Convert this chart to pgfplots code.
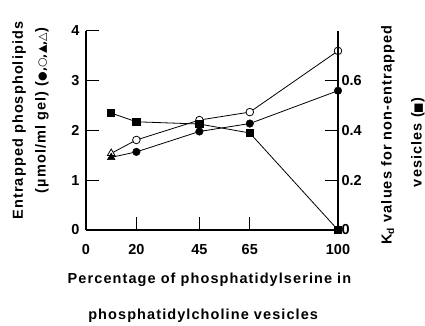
\documentclass[border=0pt]{standalone}
\usepackage{fontspec}
\setmainfont{Liberation Sans}
\newfontfamily\lblfont[LetterSpace=7.5]{Liberation Sans}
\newfontfamily\symfont{DejaVu Sans}
\usepackage{pgfplots}
\pgfplotsset{compat=1.18}
\begin{document}
\begin{tikzpicture}[x=1pt,y=1pt]
\path[use as bounding box] (-86,-96) rectangle (339,230);
\begin{axis}[
  at={(0,0)}, anchor=south west,
  scale only axis, width=252pt, height=199pt,
  xmin=0, xmax=100, ymin=0, ymax=4,
  axis y line*=left, axis x line*=bottom,
  axis line style={line width=1.1pt},
  xtick={0,20,45,65,100}, ytick={0,1,2,3,4},
  tick style={line width=1pt, black},
  major tick length=13pt,
  tick align=inside,
  /pgf/number format/assume math mode=true,
  ticklabel style={font=\fontsize{14.5}{16}\selectfont\bfseries},
  xticklabel style={yshift=-11pt},
  yticklabel style={xshift=-3pt},
  clip=false,
]
\addplot[black, line width=0.8pt] coordinates {(10,1.54) (20,1.81) (45,2.21) (65,2.37) (100,3.6)};
\addplot[black, line width=0.8pt] coordinates {(10,1.46) (20,1.57) (45,1.98) (65,2.14) (100,2.8)};
\addplot[only marks, mark=*, mark options={fill=white, draw=black, line width=0.8pt}, mark size=3.8pt] coordinates {(20,1.81) (45,2.21) (65,2.37) (100,3.6)};
\addplot[only marks, mark=*, mark options={fill=black}, mark size=3.8pt] coordinates {(20,1.57) (45,1.98) (65,2.14) (100,2.8)};
\addplot[only marks, mark=triangle*, mark options={fill=white, draw=black, line width=0.8pt}, mark size=4.4pt] coordinates {(10,1.54)};
\addplot[only marks, mark=triangle*, mark options={fill=black}, mark size=4.4pt] coordinates {(10,1.46)};
\node[rotate=90, font=\fontsize{14.5}{16}\lblfont\bfseries] at (axis description cs:-0.265,0.55) {Entrapped phospholipids};
\node[rotate=90, font=\fontsize{14.5}{16}\lblfont\bfseries] at (axis description cs:-0.175,0.6) {(µmol/ml gel) ({\symfont\fontsize{11}{12}\selectfont ●,○,▲,△})};
\node[font=\fontsize{14.5}{16}\lblfont\bfseries] at (axis description cs:0.49,-0.25) {Percentage of phosphatidylserine in};
\node[font=\fontsize{14.5}{16}\lblfont\bfseries] at (axis description cs:0.465,-0.43) {phosphatidylcholine vesicles};
\end{axis}
\begin{axis}[
  at={(0,0)}, anchor=south west,
  scale only axis, width=252pt, height=199pt,
  xmin=0, xmax=100, ymin=0, ymax=0.8,
  axis y line*=right, axis x line=none,
  axis line style={line width=1.1pt},
  ytick={0,0.2,0.4,0.6},
  yticklabels={0,0.2,0.4,0.6},
  tick style={line width=1pt, black},
  major tick length=13pt,
  tick align=inside,
  /pgf/number format/assume math mode=true,
  ticklabel style={font=\fontsize{14.5}{16}\selectfont\bfseries},
  clip=false,
]
\addplot[black, line width=0.8pt, mark=square*, mark size=3.6pt] coordinates {(10,0.47) (20,0.435) (45,0.426) (65,0.39) (100,0)};
\node[rotate=90, font=\fontsize{14.5}{16}\lblfont\bfseries] at (axis description cs:1.198,0.477) {K\textsubscript{d} values for non-entrapped};
\node[rotate=90, font=\fontsize{14.5}{16}\lblfont\bfseries] at (axis description cs:1.317,0.44) {vesicles ({\symfont\fontsize{11}{12}\selectfont ■})};
\end{axis}
\end{tikzpicture}
\end{document}
